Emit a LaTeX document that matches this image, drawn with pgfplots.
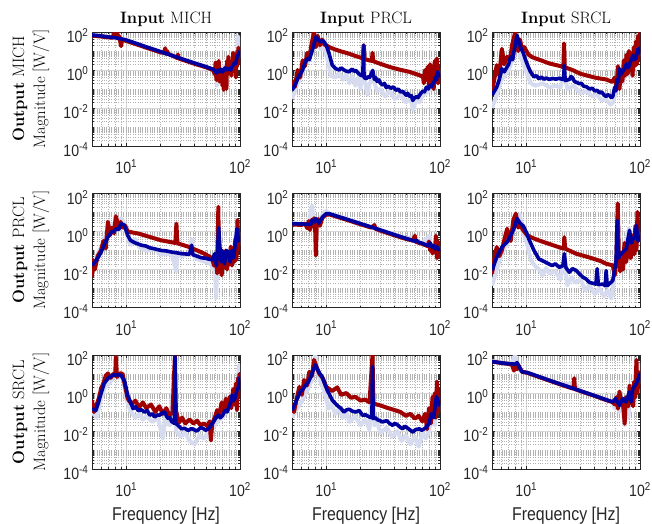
\documentclass[border=0pt]{standalone}
\usepackage{fontspec}
\usepackage{pgfplots}
\pgfplotsset{compat=1.18}
\newfontfamily\hv{Liberation Sans}
\definecolor{dred}{HTML}{A00000}
\definecolor{dblue}{HTML}{0000A0}
\definecolor{lblue}{HTML}{D7DBF0}
\definecolor{axgray}{HTML}{262626}
\pgfplotsset{
 every axis/.append style={
  xmode=log, ymode=log, width=148pt, height=114pt, scale only axis,
  xmin=5, xmax=100, ymin=1e-4, ymax=1e2,
  xtick={10,100}, xticklabels={10\textsuperscript{1},10\textsuperscript{2}},
  ytick={1e-4,1e-2,1,100},
  yticklabels={10\textsuperscript{-4},10\textsuperscript{-2},10\textsuperscript{0},10\textsuperscript{2}},
  minor xtick={6,7,8,9,20,30,40,50,60,70,80,90},
  minor ytick={2e-4,3e-4,4e-4,5e-4,6e-4,7e-4,8e-4,9e-4,1e-3,2e-3,3e-3,4e-3,5e-3,6e-3,7e-3,8e-3,9e-3,2e-2,3e-2,4e-2,5e-2,6e-2,7e-2,8e-2,9e-2,0.1,0.2,0.3,0.4,0.5,0.6,0.7,0.8,0.9,2,3,4,5,6,7,8,9,10,20,30,40,50,60,70,80,90},
  grid=both,
  major grid style={color=black!16, line width=0.6pt},
  minor grid style={color=black!30, dotted, line width=0.5pt},
  tick align=inside, major tick length=3pt, minor tick length=1.6pt,
  axis line style={axgray, line width=0.7pt},
  tick style={axgray, line width=0.5pt},
  tick label style={font=\hv\fontsize{16.3}{16}\selectfont, text=axgray, xscale=0.865, inner sep=0pt},
  xticklabel style={anchor=base, yshift=-27.7pt},
  yticklabel style={anchor=base east, xshift=-4pt, yshift=-10.8pt},
  anchor=north west,
 },
 every axis plot/.append style={line width=3.6pt, line join=round, no markers},
 lb/.style={lblue, line width=4pt},
 rd/.style={dred, line width=4pt},
 bl/.style={dblue, line width=3.6pt},
}
\begin{document}
\begin{tikzpicture}
\useasboundingbox (0pt,0pt) rectangle (652pt,-523pt);
% ---------------- Row 1: Output MICH
\begin{axis}[at={(92pt,-32pt)}]
\addplot[lb] coordinates {(5,70)(6,62)(7,55)(8,50)(9,44)(10,38)(15,16.5)(20,9.3)(22,7)(22.5,12)(23,8.5)(30,4.1)(40,2.3)(50,1.5)(58,1.1)(60,0.5)(61.5,1.8)(63,0.15)(65,1.5)(66.5,0.4)(68,0.3)(70,1.2)(72,0.6)(74,1.8)(76,0.5)(78,1.5)(80,2)(82,0.9)(85,1)(87,3)(90,4)(92,1.5)(94,2)(96,60)(97,5)(98,12)(100,20)};
\addplot[rd] coordinates {(5,65)(6,58)(7,52)(7.6,50)(7.9,95)(8.1,60)(8.3,100)(8.5,45)(8.7,60)(9.0,18)(9.2,40)(9.6,36)(10,34)(15,15)(20,8.5)(21.5,8)(22,14)(22.4,7)(22.8,10)(23.5,7)(28,4.3)(28.5,6.5)(29,4)(40,2.1)(50,1.4)(58,1.0)(60,0.6)(61,2.5)(62,0.3)(63,1.5)(64,0.5)(65,3)(66,0.25)(67,1.0)(68,0.3)(69,0.8)(70,0.15)(71,0.6)(72,0.09)(73,1.2)(74,0.5)(75,0.9)(76,0.1)(77,3)(78,0.6)(79,5)(80,1)(81,2.5)(82,0.7)(83,2)(84,0.5)(85,3)(86,1)(87,8)(88,1.5)(89,4)(90,1)(91,6)(92,0.4)(93,3)(94,1.5)(95,10)(96,2)(97,15)(98,3)(99,8)(100,3)};
\addplot[bl] coordinates {(5,70)(6,62)(7,55)(8,50)(9,44)(10,38)(15,16.5)(20,9.3)(30,4.1)(40,2.3)(50,1.5)(58,1.1)(60,0.9)(62,0.7)(64,1.0)(66,0.8)(68,1.1)(70,0.8)(72,1.0)(74,1.3)(77,1.0)(80,1.2)(83,1.0)(85,1.5)(88,2.0)(90,2.5)(92,2.2)(94,5)(96,6)(98,8)(100,10)};
\end{axis}
\begin{axis}[at={(292pt,-32pt)}]
\addplot[lb] coordinates {(5,0.03)(5.5,0.15)(6,0.5)(6.5,2)(7,3)(7.5,10)(8,80)(8.5,20)(9,12)(9.5,25)(10,6)(10.5,2)(11,0.5)(12,0.4)(13,0.7)(14,0.3)(15,0.6)(16,0.2)(17,0.5)(18,0.15)(19,0.4)(20,0.1)(21.2,15)(22,0.2)(23,0.05)(24,0.2)(26,0.3)(28,0.08)(30,0.1)(33,0.04)(36,0.08)(40,0.03)(45,0.05)(50,0.02)(55,0.03)(58,0.008)(62,0.03)(66,0.02)(71,0.05)(76,0.06)(82,0.1)(87,0.1)(91,0.3)(95,1.5)(100,0.6)};
\addplot[rd] coordinates {(5,0.29)(5.3,0.13)(5.6,1)(5.9,0.4)(6.2,3.2)(6.5,1.6)(6.8,8)(7.1,4)(7.4,20)(7.8,100)(8.1,16)(8.4,63)(8.8,20)(9.2,40)(9.6,22)(10,20)(10.6,16)(12,12)(13.5,9.5)(15.9,7.2)(18,5.5)(20,4.5)(21.2,4)(21.4,20)(21.7,3.8)(23.9,3.2)(25.2,3)(25.5,8)(25.9,2.9)(30,2.1)(36,1.45)(44,1.05)(54,0.8)(62,0.6)(68,0.5)(71,0.43)(72,0.2)(74,1.0)(76,0.3)(78,1.5)(80,0.15)(82,2)(84,0.4)(86,1.0)(88,0.1)(90,3)(92,0.5)(94,4)(96,0.2)(98,1.5)(100,0.5)};
\addplot[bl] coordinates {(5,0.085)(5.4,0.2)(5.7,0.43)(6.0,0.7)(6.2,1.0)(6.5,2.5)(6.8,4)(7.1,3.5)(7.3,5.9)(7.7,16)(8.1,55)(8.5,40)(8.9,30)(9.4,35)(10,20)(10.6,7.2)(11.3,1.8)(12.1,1.17)(13,1.0)(13.5,1.3)(14,1.1)(14.8,0.9)(15.9,0.8)(16.5,1.0)(17,1.1)(17.6,0.85)(18.2,0.95)(19,0.7)(20.2,0.52)(21,0.5)(21.2,20)(21.5,0.4)(22.5,0.35)(23.2,0.45)(24,0.4)(24.8,0.6)(25.6,0.95)(26.5,0.32)(27.2,0.4)(28,0.25)(29,0.3)(30,0.2)(31.5,0.16)(32.5,0.2)(33.6,0.12)(35,0.14)(37,0.11)(39,0.13)(41,0.085)(43,0.1)(45,0.07)(47,0.075)(50.4,0.047)(52,0.06)(54,0.04)(56,0.045)(57.6,0.025)(60,0.035)(62,0.04)(64,0.035)(66,0.047)(68,0.06)(71,0.08)(73,0.07)(76,0.126)(79,0.1)(82,0.16)(84,0.13)(87,0.19)(89,0.25)(91,0.4)(93,0.3)(95,0.8)(98,0.5)(100,0.63)};
\end{axis}
\begin{axis}[at={(492pt,-32pt)}]
\addplot[lb] coordinates {(5,0.01)(5.5,0.05)(6,0.3)(6.5,0.5)(7,1)(7.5,3)(8,20)(8.3,50)(8.8,6)(9.5,2)(10,0.8)(11,0.2)(12,0.15)(14,0.2)(16,0.12)(18,0.15)(20,0.12)(21.6,0.8)(23,0.1)(26,0.15)(30,0.06)(34,0.08)(38,0.04)(42,0.05)(46,0.025)(50,0.03)(55,0.015)(58,0.02)(62,0.1)(66,0.3)(70,0.2)(75,0.8)(80,0.5)(85,2)(90,1.5)(95,5)(100,8)};
\addplot[rd] coordinates {(5,0.085)(5.2,0.25)(5.5,1.8)(5.8,0.5)(6.1,13)(6.4,2)(6.8,5)(7.2,3.2)(7.5,20)(8.0,100)(8.5,10)(8.8,40)(9.2,12.6)(9.6,16)(10.5,6.3)(11.5,4.5)(13,3.5)(16,2.2)(20,1.6)(21.2,1.4)(21.5,25)(21.8,1.4)(25.5,1)(30,0.63)(40,0.4)(50,0.32)(57,0.24)(60,0.4)(62,0.126)(64,1.6)(66,0.1)(68,1)(70,0.25)(72,3.2)(74,0.5)(76,6.3)(78,0.63)(80,10)(82,1)(84,4)(86,0.5)(88,16)(90,1.6)(92,32)(94,2)(96,63)(98,3.2)(100,100)};
\addplot[bl] coordinates {(5,0.047)(5.5,0.126)(5.8,0.32)(6.1,1.17)(6.4,0.8)(6.6,1.1)(7.0,2)(7.3,4.8)(7.6,3.5)(7.8,9)(8.3,66)(8.9,16)(9.4,8)(9.9,3.2)(10.4,1.5)(10.9,0.8)(11.7,0.43)(12.3,0.5)(12.9,0.35)(13.6,0.42)(14.3,0.33)(15,0.38)(16,0.32)(17,0.36)(18.2,0.33)(19.5,0.37)(20.8,0.32)(21.3,0.32)(21.6,1.8)(22,0.28)(23,0.3)(24,0.32)(24.7,0.45)(25.5,0.4)(26.5,0.25)(27.8,0.22)(29.3,0.19)(30.5,0.2)(32,0.14)(34,0.13)(36,0.1)(38,0.11)(40,0.08)(42,0.085)(44,0.063)(46,0.07)(48,0.05)(50.4,0.04)(52,0.05)(54,0.045)(56,0.035)(57.6,0.04)(60,0.126)(61.5,0.08)(63,0.32)(64.5,0.25)(66,1.17)(68,0.6)(70,0.8)(73,1.2)(76,2.1)(78,1.3)(80,1.6)(83,3)(87,5.9)(89,3.5)(92,4)(94,8)(96,12.6)(98,8)(100,16)};
\end{axis}
% ---------------- Row 2: Output PRCL
\begin{axis}[at={(92pt,-193.5pt)}]
\addplot[lb] coordinates {(5,0.02)(5.5,0.05)(6,0.15)(6.5,0.5)(7,1.5)(7.5,2)(8,3)(8.5,1.5)(9,5)(9.5,3)(10,1)(10.5,0.3)(11,0.2)(12,0.4)(13,0.15)(15,0.1)(18,0.12)(20,0.06)(25,0.07)(27.6,0.008)(28,0.06)(30,0.05)(35,0.06)(37.6,0.4)(40,0.04)(45,0.03)(50,0.025)(55,0.02)(58,0.01)(60,0.05)(61.5,0.0003)(63,0.01)(65,0.5)(67,0.01)(70,0.05)(75,0.02)(80,0.1)(85,0.05)(90,0.3)(94,2)(97,0.2)(100,1)};
\addplot[rd] coordinates {(5,0.004)(5.1,0.032)(5.3,0.01)(5.6,0.05)(6.0,0.1)(6.3,0.32)(6.6,0.126)(6.9,3.2)(7.2,0.63)(7.5,1.6)(7.8,0.8)(8.1,6.3)(8.5,2)(8.9,3.2)(9.3,1.6)(9.8,2)(10.3,1)(13,0.76)(20,0.35)(27,0.25)(27.6,2.6)(28.2,0.24)(35,0.16)(46,0.08)(57,0.04)(59,0.016)(61,0.063)(63,0.0063)(64.5,20)(65.5,0.01)(67,0.032)(69,0.005)(71,0.05)(73,0.0126)(75,0.1)(77,0.01)(79,0.063)(81,0.02)(83,0.16)(85,0.016)(87,0.1)(89,0.025)(91,0.4)(93,0.032)(95,4)(97,0.126)(99,0.5)(100,0.1)};
\addplot[bl] coordinates {(5,0.016)(5.5,0.032)(6.0,0.08)(6.5,0.25)(6.9,0.51)(7.4,0.93)(7.8,1)(8.2,1.4)(8.6,1.26)(9.0,2.6)(9.6,2.2)(10.3,0.63)(10.9,0.34)(12,0.25)(13.6,0.19)(15,0.17)(16,0.14)(18,0.12)(20.4,0.1)(22.5,0.095)(25,0.083)(28,0.075)(30.7,0.068)(33,0.066)(36,0.063)(37.6,0.19)(38.5,0.06)(42,0.05)(46,0.041)(49,0.04)(52.5,0.036)(57,0.032)(60,0.068)(62,0.016)(64,0.25)(65,1.6)(66,0.32)(68,0.025)(70,0.1)(73,0.02)(76,0.1)(79,0.08)(82,0.025)(85,0.1)(88,0.04)(91,0.25)(94,1.4)(97,0.32)(100,0.5)};
\end{axis}
\begin{axis}[at={(292pt,-193.5pt)}]
\addplot[lb] coordinates {(5,2.6)(7,2.5)(7.5,24)(7.8,3)(8.1,5)(8.5,2.5)(9,6)(9.5,10)(10,12)(10.6,9)(15,4.6)(20,2.6)(30,1.2)(40,0.7)(50,0.45)(60,0.5)(62,0.3)(70,0.25)(80,0.6)(82,0.2)(90,0.15)(100,0.12)};
\addplot[rd] coordinates {(5,2.4)(6,2.2)(6.5,2.6)(6.8,1.5)(7.0,3.5)(7.2,1.2)(7.4,4)(7.6,2)(7.8,5)(8.0,1.0)(8.1,0.055)(8.25,3)(8.5,4.5)(8.8,2)(9.2,5)(9.6,6.5)(10,7.5)(10.6,8)(15,4.2)(20,2.4)(25,1.6)(26.5,2.2)(27,1.4)(30,1.1)(40,0.62)(50,0.41)(58,0.33)(60,0.6)(61,0.3)(62,0.28)(70,0.22)(78,0.17)(80,0.3)(82,0.1)(84,0.2)(86,0.07)(88,0.15)(90,0.08)(92,0.6)(94,0.04)(96,0.3)(98,0.05)(100,0.12)};
\addplot[bl] coordinates {(5,2.6)(6,2.5)(7,2.4)(7.3,2.3)(7.5,3.9)(7.8,3.2)(8.1,4.8)(8.6,2.8)(9.3,5.9)(10,8.7)(10.6,8.7)(15,4.5)(20,2.6)(30,1.2)(40,0.67)(50,0.44)(60,0.31)(62,0.35)(65,0.27)(70,0.24)(75,0.2)(80,0.18)(82,0.25)(85,0.15)(88,0.18)(91,0.12)(94,0.16)(97,0.11)(100,0.13)};
\end{axis}
\begin{axis}[at={(492pt,-193.5pt)}]
\addplot[lb] coordinates {(5,0.0014)(5.5,0.01)(6,0.05)(6.5,0.15)(7,0.3)(7.5,1)(8,5)(8.3,3)(8.8,8)(9.3,1)(10,0.3)(10.5,0.1)(11,0.03)(12,0.015)(13,0.01)(14,0.005)(15,0.012)(16,0.006)(18,0.008)(20,0.003)(21.6,0.03)(23,0.0015)(25,0.004)(27,0.002)(30,0.003)(33,0.0008)(36,0.0015)(40,0.0005)(44,0.001)(48,0.0004)(52,0.0008)(56,0.0003)(60,0.005)(63,1)(66,0.02)(70,0.05)(75,0.3)(80,1.5)(85,0.1)(90,1)(95,0.2)(100,1)};
\addplot[rd] coordinates {(5,0.006)(5.2,0.032)(5.5,0.15)(5.8,0.05)(6.1,0.1)(6.5,0.5)(6.8,1.4)(7.1,0.4)(7.3,0.32)(7.7,4)(8.1,8.7)(8.5,1.6)(8.8,2.5)(9.3,1.26)(10.2,0.63)(11,0.5)(12.9,0.34)(16,0.22)(20,0.14)(21.4,0.126)(21.6,0.5)(22,0.126)(27.4,0.068)(35,0.045)(45,0.028)(50.4,0.02)(57.6,0.0166)(60,0.005)(62,0.032)(63.8,30)(65,0.1)(67,0.008)(69,0.032)(71,0.01)(73,0.25)(75.6,0.025)(78,0.1)(80.9,0.32)(83,0.04)(86.6,0.63)(89,0.063)(91,2)(93,0.1)(95,10.7)(97,0.32)(100,2.5)};
\addplot[bl] coordinates {(5,0.0087)(5.5,0.045)(6.1,0.15)(6.8,0.28)(7.3,0.63)(7.8,1.4)(8.3,4.8)(8.9,2.6)(9.4,2)(10,0.93)(10.5,0.42)(11.7,0.1)(12.9,0.036)(14.8,0.024)(16.9,0.016)(18,0.02)(19.5,0.013)(21,0.016)(21.6,0.068)(22.3,0.0126)(23.9,0.0072)(25.5,0.011)(27.4,0.009)(29,0.0063)(31.3,0.004)(33.5,0.0032)(35.9,0.0021)(41,0.0017)(42,0.011)(43,0.0016)(47,0.0017)(49.5,0.0014)(50.4,0.0087)(51.5,0.0014)(55,0.002)(57.6,0.0026)(61.7,0.03)(63,3.9)(64.5,0.04)(70,0.08)(75.6,0.12)(80.9,1.15)(84,0.25)(86.6,0.4)(90,0.5)(92.8,2.1)(96,0.32)(100,0.63)};
\end{axis}
% ---------------- Row 3: Output SRCL
\begin{axis}[at={(92pt,-355pt)}]
\addplot[lb] coordinates {(5,0.1)(5.5,0.05)(6,0.5)(6.5,2)(7,3)(7.5,5)(8,15)(8.5,6)(9,12)(9.5,4)(10,0.5)(11,0.1)(12,0.05)(13,0.08)(14,0.04)(15,0.06)(17,0.03)(19,0.05)(21,0.004)(22,0.06)(24,0.02)(26.8,30)(27.5,0.01)(30,0.005)(33,0.008)(36,0.003)(40,0.002)(44,0.006)(48,0.004)(52,0.008)(56,0.01)(60,0.02)(65,0.04)(70,0.05)(75,0.1)(80,0.15)(85,0.5)(90,0.8)(95,2)(98,30)(100,5)};
\addplot[rd] coordinates {(5,0.42)(5.2,0.1)(5.5,0.25)(5.8,0.63)(6.0,1.74)(6.3,3.2)(6.6,8)(6.9,10.7)(7.3,6.3)(7.7,10)(8.0,8)(8.1,81)(8.3,7)(8.8,11)(9.3,10)(9.7,2.8)(10.3,0.5)(11.2,0.25)(12,0.4)(13,0.18)(14,0.32)(15,0.16)(16.5,0.25)(18,0.1)(19.5,0.2)(21,0.08)(22.5,0.16)(24,0.063)(25.5,0.1)(26.8,100)(27.3,0.126)(29,0.028)(31,0.05)(33,0.025)(36,0.04)(39,0.025)(42,0.035)(45,0.02)(48,0.025)(52,0.018)(54,0.032)(55.5,0.0032)(57,0.025)(60,0.05)(63,0.126)(66,0.08)(69,0.32)(72,0.1)(75,0.5)(78,0.126)(81,0.63)(84,0.16)(87,1.6)(90,0.25)(92,3.2)(94,0.126)(96,6.3)(97.5,0.63)(99,10)(100,1)};
\addplot[bl] coordinates {(5,0.15)(5.4,0.12)(5.7,0.32)(6.0,0.93)(6.4,3.2)(6.9,5.9)(7.6,8.7)(8.3,9)(9.0,8.7)(9.7,3.9)(10.3,0.76)(11.5,0.15)(12.1,0.19)(12.7,0.12)(13.6,0.13)(14.5,0.1)(15.3,0.12)(16.1,0.068)(17,0.08)(17.8,0.055)(18.8,0.07)(19.7,0.068)(20.7,0.09)(21.8,0.1)(22.6,0.06)(23.4,0.045)(24.2,0.05)(25,0.032)(26.5,0.025)(26.8,81)(27.2,0.025)(28.5,0.02)(29.5,0.016)(30.7,0.013)(32.5,0.014)(35,0.0107)(37,0.013)(39,0.0126)(41,0.01)(43,0.0115)(45,0.015)(47,0.014)(50,0.011)(52.8,0.013)(55.5,0.02)(58.4,0.03)(61.5,0.05)(64.8,0.068)(67,0.05)(70,0.063)(74,0.12)(77,0.1)(80,0.2)(82.5,0.3)(85,0.76)(87.5,0.4)(90,0.5)(94,1.4)(97,2)(100,7)};
\end{axis}
\begin{axis}[at={(292pt,-355pt)}]
\addplot[lb] coordinates {(5,0.05)(5.5,0.15)(6,0.3)(6.5,0.8)(7,2)(7.5,5)(8,100)(8.5,10)(9,3)(9.5,1.5)(10,0.5)(10.5,0.15)(11,0.3)(12,0.08)(13,0.15)(14,0.05)(15,0.1)(16,0.03)(18,0.06)(20,0.02)(22,0.04)(24,0.012)(25.5,20)(26.5,0.02)(28,0.03)(30,0.008)(34,0.015)(38,0.005)(42,0.01)(46,0.003)(50,0.006)(55,0.002)(60,0.005)(65,0.0015)(70,0.008)(75,0.004)(80,0.01)(85,0.05)(90,0.02)(95,0.3)(100,0.1)};
\addplot[rd] coordinates {(5,0.28)(5.2,0.1)(5.5,0.5)(5.8,2.1)(6.1,0.8)(6.4,4.8)(6.8,2.5)(7.1,13)(7.5,8)(7.8,55)(8.3,20)(8.7,10)(9.3,6.3)(10.0,2.1)(11.3,1.26)(12.5,2)(13.5,0.8)(15,1)(16.5,0.56)(18,0.63)(20,0.4)(22,0.45)(24,0.32)(25.5,100)(26,0.28)(30,0.22)(35,0.16)(40,0.126)(45,0.1)(50,0.063)(55,0.08)(60,0.045)(65,0.063)(70,0.032)(74,0.08)(77,0.0126)(80,0.16)(83,0.025)(86,0.63)(88,0.063)(90,1)(92,0.05)(94,4)(96,0.1)(98,1.6)(100,0.16)};
\addplot[bl] coordinates {(5,0.12)(5.4,0.34)(5.9,1.15)(6.2,1.5)(6.6,2.6)(7.0,4)(7.3,7)(8.0,30)(8.6,13)(9.2,7)(10.2,1.4)(11.3,0.42)(12.5,0.22)(13.4,0.16)(14.3,0.1)(15.1,0.13)(15.9,0.14)(17,0.11)(18.2,0.1)(19.5,0.12)(20.8,0.068)(22.3,0.07)(23.9,0.055)(25.2,0.05)(25.5,25)(25.9,0.045)(27,0.05)(28,0.04)(29.6,0.035)(31.3,0.03)(34,0.035)(36,0.025)(38.4,0.02)(40,0.025)(42,0.022)(44.5,0.016)(47,0.013)(49,0.018)(52,0.014)(55,0.011)(57.6,0.0087)(61,0.012)(66,0.013)(69,0.011)(72,0.0126)(76,0.016)(80,0.025)(84,0.08)(88,0.05)(93,0.63)(97,0.32)(100,0.2)};
\end{axis}
\begin{axis}[at={(492pt,-355pt)}]
\addplot[lb] coordinates {(5,50)(7,35)(7.5,40)(8.0,100)(8.3,30)(8.8,15)(9.5,13)(10.2,12)(15,5.3)(20,2.9)(26.4,3)(30,1.3)(40,0.72)(50,0.45)(57.6,0.3)(60,0.15)(63,0.8)(66,0.1)(70,0.3)(73,0.02)(76,0.4)(79,0.05)(82,1.5)(85,0.5)(90,5)(93,30)(96,3)(100,40)};
\addplot[rd] coordinates {(5,45)(6,38)(7,34)(7.5,30)(7.8,15)(8.0,25)(8.3,18)(8.5,30)(8.8,20)(9.2,13)(10.2,11.5)(15,5.1)(20,2.8)(25,1.8)(26,1.7)(26.4,6)(26.8,1.6)(30,1.25)(40,0.7)(50,0.43)(57.6,0.33)(60,0.25)(62,0.6)(64,0.15)(66,1.2)(68,0.3)(70,0.5)(72,0.1)(73.3,0.024)(75,0.6)(77,0.3)(79,0.2)(81,2.5)(83,0.3)(85,1.0)(87,0.2)(89,4)(91,0.6)(93,55)(95,1)(97,10)(99,2)(100,15)};
\addplot[bl] coordinates {(5,45)(6.6,36)(8.0,33)(8.3,40)(8.6,26)(9.2,13)(10.2,12)(15,5.3)(20,2.95)(30,1.29)(40,0.72)(50,0.45)(57.6,0.34)(61,0.51)(66,0.22)(70.6,0.51)(75.6,0.34)(81,1.15)(83.5,0.34)(86.6,1.7)(92.8,3.2)(96,5)(100,10.7)};
\end{axis}
% ---------------- Titles and labels
\begin{scope}[every node/.style={font=\fontsize{16.5}{18}\selectfont, text=black}]
\node[anchor=base] at (166pt,-23.3pt) {\textbf{Input} MICH};
\node[anchor=base] at (366pt,-23.3pt) {\textbf{Input} PRCL};
\node[anchor=base] at (566pt,-23.3pt) {\textbf{Input} SRCL};
\node[anchor=base, rotate=90] at (24pt,-88.7pt) {\textbf{Output} MICH};
\node[anchor=base, rotate=90] at (45pt,-88.7pt) {Magnitude [W/V]};
\node[anchor=base, rotate=90] at (24pt,-250.3pt) {\textbf{Output} PRCL};
\node[anchor=base, rotate=90] at (45pt,-250.3pt) {Magnitude [W/V]};
\node[anchor=base, rotate=90] at (24pt,-412pt) {\textbf{Output} SRCL};
\node[anchor=base, rotate=90] at (45pt,-412pt) {Magnitude [W/V]};
\end{scope}
\begin{scope}[every node/.style={font=\hv\fontsize{18.5}{20}\selectfont, text=axgray, xscale=0.86}]
\node[anchor=base] at (166pt,-520pt) {Frequency [Hz]};
\node[anchor=base] at (366pt,-520pt) {Frequency [Hz]};
\node[anchor=base] at (566pt,-520pt) {Frequency [Hz]};
\end{scope}
\end{tikzpicture}
\end{document}
